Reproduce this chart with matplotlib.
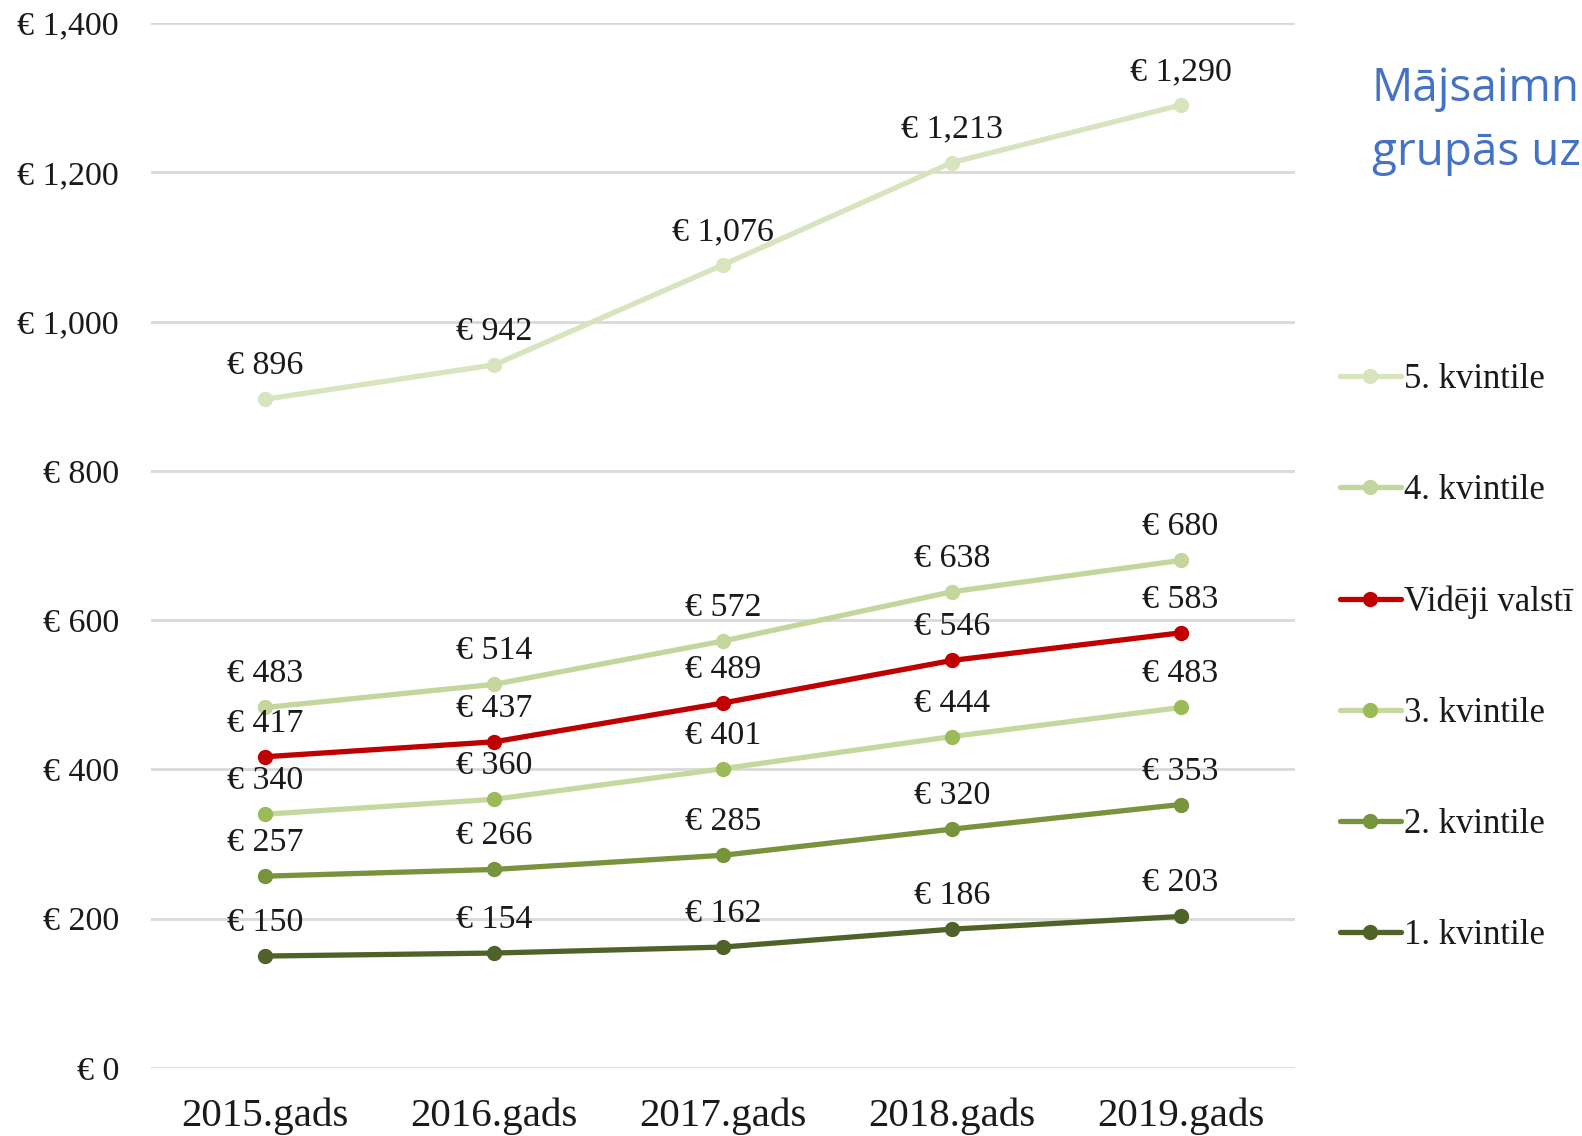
import matplotlib
matplotlib.use("Agg")
import matplotlib.pyplot as plt

years = ["2015.gads", "2016.gads", "2017.gads", "2018.gads", "2019.gads"]
q5 = [896, 942, 1076, 1213, 1290]
q4 = [483, 514, 572, 638, 680]
avg = [417, 437, 489, 546, 583]
q3 = [340, 360, 401, 444, 483]
q2 = [257, 266, 285, 320, 353]
q1 = [150, 154, 162, 186, 203]
yticks = [0, 200, 400, 600, 800, 1000, 1200, 1400]
title_lines = ["Mājsaimn", "grupās uz"]

series = [
    ("5. kvintile", q5, "#d7e4bd", "#d7e4bd"),
    ("4. kvintile", q4, "#c3d69b", "#c3d69b"),
    ("Vidēji valstī", avg, "#c00000", "#c00000"),
    ("3. kvintile", q3, "#c4d9a0", "#9bbb59"),
    ("2. kvintile", q2, "#77933c", "#77933c"),
    ("1. kvintile", q1, "#4f6228", "#4f6228"),
]

plt.rcParams['font.family'] = ['Liberation Serif', 'DejaVu Serif']

fig = plt.figure(figsize=(15.82, 11.36), dpi=100)
ax = fig.add_axes([151/1582, 1 - 1068/1136, (1295-151)/1582, (1068-23)/1136])

x = list(range(len(years)))
handles = []
for name, vals, lc, mc in series:
    h, = ax.plot(x, vals, color=lc, lw=3.8, marker='o', ms=10,
                 markerfacecolor=mc, markeredgecolor=mc, label=name,
                 solid_capstyle='round', zorder=3)
    handles.append(h)
    for xi, v in zip(x, vals):
        ax.annotate(f"€ {v:,}", (xi, v), xytext=(0, 18), textcoords='offset points',
                    ha='center', va='baseline', fontsize=24.5, color='#1a1a1a', zorder=4)

ax.set_xlim(-0.5, 4.5)
ax.set_ylim(0, 1400)
ax.set_yticks(yticks)
ax.set_yticklabels([f"€ {v:,}" for v in yticks])
ax.set_xticks(x)
ax.set_xticklabels(years)
ax.tick_params(axis='y', length=0, pad=23, labelsize=24.5, labelcolor='#1a1a1a')
ax.tick_params(axis='x', length=0, pad=21, labelsize=29.5, labelcolor='#1a1a1a')
ax.grid(axis='y', color='#d9d9d9', lw=2)
ax.set_axisbelow(True)
for s in ax.spines.values():
    s.set_visible(False)

leg = fig.legend(handles=handles, loc='upper left',
                 bbox_to_anchor=(1340/1582, 1 - 363/1136),
                 frameon=False, fontsize=25, labelspacing=2.25,
                 handlelength=1.75, handletextpad=0.1, borderpad=0, borderaxespad=0)
for t in leg.get_texts():
    t.set_color('#1a1a1a')

fig.text(1372/1582, 1 - 89/1136, title_lines[0], fontsize=33, color='#4472c4',
         family=['Open Sans', 'DejaVu Sans'], ha='left', va='center')
fig.text(1372/1582, 1 - 153/1136, title_lines[1], fontsize=33, color='#4472c4',
         family=['Open Sans', 'DejaVu Sans'], ha='left', va='center')

fig.savefig("out.png", dpi=100)
